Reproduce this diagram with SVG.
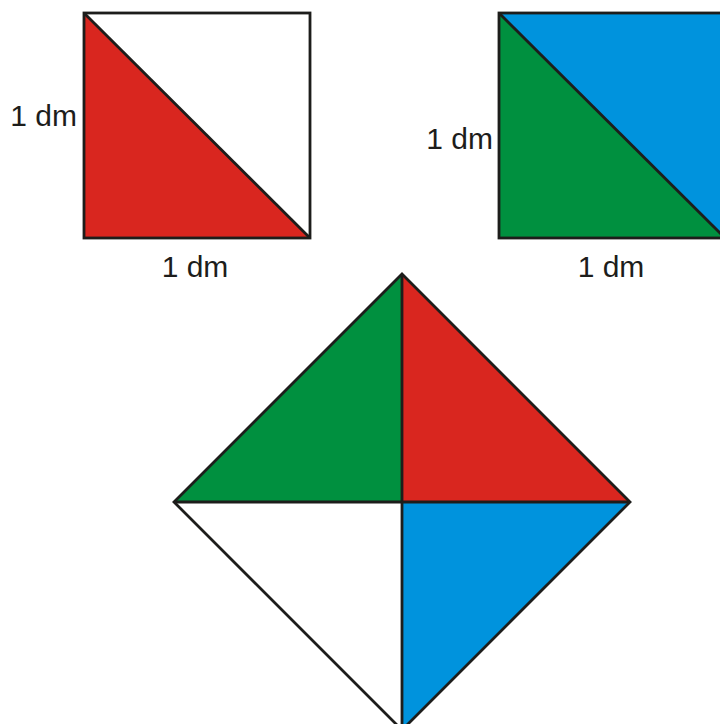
<svg xmlns="http://www.w3.org/2000/svg" width="720" height="724" viewBox="0 0 720 724">
<style>
.ln{stroke:#1d1d1b;stroke-width:2.8;stroke-linejoin:miter;stroke-linecap:butt}
.red{fill:#d9261f}.green{fill:#00903f}.blue{fill:#0093dd}.white{fill:#ffffff}
.lbl{font-family:"Liberation Sans",Arial,sans-serif;font-size:30px;fill:#1d1d1b}
</style>
<rect width="720" height="724" fill="#ffffff"/>
<g id="square1">
<polygon class="white" points="84,13 310,13 310,238"/>
<polygon class="red" points="84,13 310,238 84,238"/>
<rect class="ln" x="84" y="13" width="226" height="225" fill="none"/>
<line class="ln" x1="84" y1="13" x2="310" y2="238"/>
<text class="lbl" x="77" y="126" text-anchor="end">1 dm</text>
<text class="lbl" x="195" y="277" text-anchor="middle">1 dm</text>
</g>
<g id="square2">
<polygon class="blue" points="499,13 725,13 725,238"/>
<polygon class="green" points="499,13 725,238 499,238"/>
<rect class="ln" x="499" y="13" width="226" height="225" fill="none"/>
<line class="ln" x1="499" y1="13" x2="725" y2="238"/>
<text class="lbl" x="493" y="149" text-anchor="end">1 dm</text>
<text class="lbl" x="611" y="277" text-anchor="middle">1 dm</text>
</g>
<g id="diamond">
<polygon class="green" points="402,274 174,502 402,502"/>
<polygon class="red" points="402,274 630,502 402,502"/>
<polygon class="white" points="174,502 402,502 402,730"/>
<polygon class="blue" points="402,502 630,502 402,730"/>
<polygon class="ln" points="402,274 630,502 402,730 174,502" fill="none"/>
<line class="ln" x1="402" y1="274" x2="402" y2="730"/>
<line class="ln" x1="174" y1="502" x2="630" y2="502"/>
</g>
</svg>
